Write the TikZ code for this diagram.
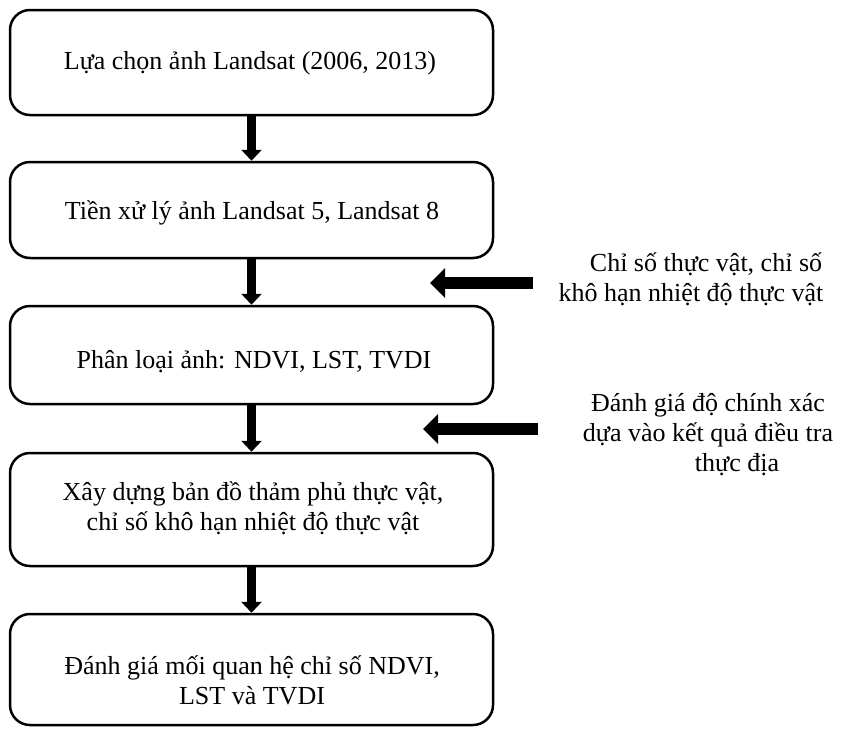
\documentclass[tikz,border=0pt]{standalone}
\usepackage{fontspec}
\setmainfont{Liberation Serif}
\usetikzlibrary{arrows.meta}
\tikzset{
  flowbox/.style={draw=black, line width=2.5pt, rounded corners=20pt, fill=white,
    minimum width=483pt, inner sep=0pt},
  boxtext/.style={font=\fontsize{26}{30}\selectfont, align=center, inner sep=0pt},
  sidetext/.style={font=\fontsize{26}{30}\selectfont, align=center, inner sep=0pt},
  downarrow/.style={line width=9pt, -{Triangle[width=20pt,length=11pt]}},
  leftarrow/.style={line width=12pt, -{Triangle[width=29pt,length=15pt]}}
}
\begin{document}
\begin{tikzpicture}[x=1pt,y=1pt]
\useasboundingbox (0,0) rectangle (845,-728);
% boxes
\node[flowbox, minimum height=105pt] (b1) at (251.5,-62.5) {};
\node[flowbox, minimum height=96pt] (b2) at (251.5,-210) {};
\node[flowbox, minimum height=98pt] (b3) at (251.5,-355) {};
\node[flowbox, minimum height=113pt] (b4) at (251.5,-509.5) {};
\node[flowbox, minimum height=111pt] (b5) at (251.5,-669.5) {};
% box texts
\node[boxtext] (t1) at (250,-63) {Lựa chọn ảnh Landsat (2006, 2013)};
\node[boxtext] (t2) at (252,-213) {Tiền xử lý ảnh Landsat 5, Landsat 8};
\node[boxtext] (t3) at (254,-362) {Phân loại ảnh: NDVI, LST, TVDI};
\node[boxtext] (t4) at (253,-508) {Xây dựng bản đồ thảm phủ thực vật,\\chỉ số khô hạn nhiệt độ thực vật};
\node[boxtext] (t5) at (252,-680) {Đánh giá mối quan hệ chỉ số NDVI,\\LST và TVDI};
% vertical arrows
\draw[downarrow] (b1.south) -- (b2.north);
\draw[downarrow] (b2.south) -- (b3.north);
\draw[downarrow] (b3.south) -- (b4.north);
\draw[downarrow] (b4.south) -- (b5.north);
% side texts
\node[sidetext] (s1) at (691,-279) {\hspace*{30pt}Chỉ số thực vật, chỉ số\\khô hạn nhiệt độ thực vật};
\node[sidetext] (s2) at (708,-435) {Đánh giá độ chính xác\\dựa vào kết quả điều tra\\\hspace*{58pt}thực địa};
% side arrows
\coordinate (a1s) at (533,-283);
\coordinate (a1e) at (430,-283);
\coordinate (a2s) at (538,-429);
\coordinate (a2e) at (423,-429);
\draw[leftarrow] (a1s) -- (a1e);
\draw[leftarrow] (a2s) -- (a2e);
\end{tikzpicture}
\end{document}
